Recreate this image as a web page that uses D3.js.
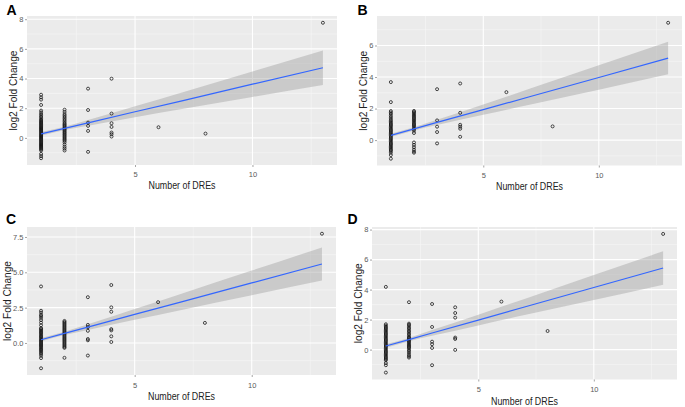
<!DOCTYPE html>
<html>
<head>
<meta charset="utf-8">
<script src="https://cdn.jsdelivr.net/npm/d3@7"></script>
<style>
html,body{margin:0;padding:0;background:#fff;}
svg{display:block;font-family:"Liberation Sans",Arial,sans-serif;}
</style>
</head>
<body>
<svg id="chart" width="685" height="407"></svg>
<script>
// ---------- DATA ----------
const dreLevels = [1, 2, 3, 4, 6, 8, 13];

// log2 fold change per DRE count level (same order as dreLevels)
const fcA = [
  [2.91, 2.73, 2.58, 2.22, 1.84, 1.72, 1.6, 1.5, 1.4, 1.3, 1.22, 1.15, 1.08, 1.02, 0.96, 0.9, 0.84, 0.78, 0.72, 0.66, 0.6, 0.54, 0.48, 0.42, 0.36, 0.3, 0.24, 0.18, 0.12, 0.06, 0.0, -0.06, -0.12, -0.18, -0.24, -0.3, -0.36, -0.42, -0.48, -0.54, -0.6, -0.66, -0.72, -0.78, -0.85, -1.08, -1.23, -1.37],
  [1.9, 1.75, 1.6, 1.5, 1.4, 1.3, 1.2, 1.1, 1.0, 0.92, 0.85, 0.78, 0.7, 0.62, 0.55, 0.48, 0.4, 0.33, 0.25, 0.18, 0.1, 0.03, -0.05, -0.12, -0.2, -0.3, -0.45, -0.6, -0.72, -0.85],
  [3.32, 1.88, 1.03, 0.81, 0.47, -0.94],
  [3.99, 1.64, 0.99, 0.74, 0.36, 0.25, 0.09],
  [0.72],
  [0.29],
  [7.76]
];
const fcB = [
  [3.68, 2.41, 1.84, 1.75, 1.66, 1.55, 1.45, 1.35, 1.25, 1.18, 1.1, 1.02, 0.95, 0.88, 0.8, 0.72, 0.65, 0.58, 0.5, 0.43, 0.36, 0.28, 0.2, 0.12, 0.05, -0.02, -0.1, -0.18, -0.25, -0.32, -0.4, -0.47, -0.55, -0.62, -0.7, -0.8, -0.95, -1.18],
  [1.85, 1.78, 1.7, 1.62, 1.55, 1.48, 1.4, 1.32, 1.25, 1.18, 1.1, 1.02, 0.95, 0.88, 0.8, 0.7, 0.6, 0.45, -0.15, -0.3, -0.45, -0.6, -0.72, -0.8],
  [3.23, 1.25, 0.85, 0.51, -0.21],
  [3.59, 1.73, 0.97, 0.85, 0.72, 0.21],
  [3.04],
  [0.87],
  [7.44]
];
const fcC = [
  [4.0, 2.28, 2.15, 2.0, 1.9, 1.78, 1.62, 1.44, 1.25, 1.05, 0.98, 0.9, 0.82, 0.75, 0.68, 0.6, 0.52, 0.45, 0.38, 0.3, 0.22, 0.15, 0.08, 0.0, -0.08, -0.15, -0.22, -0.3, -0.38, -0.45, -0.52, -0.6, -0.68, -0.78, -0.9, -1.07, -1.79],
  [1.56, 1.48, 1.4, 1.32, 1.24, 1.16, 1.08, 1.0, 0.92, 0.84, 0.76, 0.68, 0.6, 0.52, 0.44, 0.36, 0.28, 0.2, 0.12, 0.04, -0.04, -0.12, -0.2, -0.28, -0.35, -1.05],
  [3.24, 1.28, 1.12, 0.86, 0.28, 0.19, -0.89],
  [4.1, 2.52, 2.21, 0.98, 0.89, 0.47, 0.07],
  [2.89],
  [1.42],
  [7.73]
];
const fcD = [
  [4.18, 1.69, 1.6, 1.52, 1.44, 1.36, 1.28, 1.2, 1.12, 1.04, 0.96, 0.88, 0.8, 0.72, 0.64, 0.56, 0.48, 0.4, 0.32, 0.24, 0.16, 0.08, 0.0, -0.08, -0.16, -0.24, -0.32, -0.4, -0.48, -0.56, -0.64, -0.71, -0.9, -1.04, -1.53],
  [3.16, 1.73, 1.65, 1.55, 1.45, 1.35, 1.25, 1.15, 1.05, 0.95, 0.85, 0.78, 0.7, 0.62, 0.55, 0.48, 0.4, 0.32, 0.25, 0.18, 0.1, 0.0, -0.1, -0.22, -0.35, -0.45, -0.53],
  [3.04, 1.51, 0.53, 0.36, 0.11, -1.04],
  [2.82, 2.44, 2.13, 0.8, 0.71, -0.02],
  [3.2],
  [1.24],
  [7.71]
];

// fitted linear trend with confidence band
const fitX = [1, 2, 3, 5, 7, 10, 13];
const fitA = [0.27, 0.64, 1.01, 1.76, 2.50, 3.62, 4.73];
const loA  = [0.15, 0.53, 0.82, 1.39, 1.94, 2.76, 3.57];
const hiA  = [0.39, 0.75, 1.20, 2.13, 3.06, 4.48, 5.89];
const fitB = [0.30, 0.71, 1.12, 1.93, 2.75, 3.97, 5.20];
const loB  = [0.19, 0.61, 0.95, 1.60, 2.25, 3.20, 4.17];
const hiB  = [0.41, 0.81, 1.29, 2.26, 3.25, 4.74, 6.23];
const fitC = [0.23, 0.68, 1.12, 2.02, 2.91, 4.25, 5.59];
const loC  = [0.10, 0.56, 0.92, 1.64, 2.34, 3.38, 4.42];
const hiC  = [0.36, 0.80, 1.32, 2.40, 3.48, 5.12, 6.76];
const fitD = [0.24, 0.67, 1.11, 1.97, 2.84, 4.14, 5.44];
const loD  = [0.12, 0.56, 0.92, 1.61, 2.30, 3.31, 4.33];
const hiD  = [0.36, 0.78, 1.30, 2.33, 3.38, 4.97, 6.55];

const xTicks = [5, 10];
const yTicksA = [0, 2, 4, 6, 8];
const yTicksB = [0, 2, 4, 6];
const yTicksC = [0, 2.5, 5, 7.5];
const yTicksD = [0, 2, 4, 6, 8];

const xTitle = "Number of DREs";
const yTitle = "log2 Fold Change";
const panelLabels = ["A", "B", "C", "D"];

// ---------- DRAW ----------
const svg = d3.select("#chart");

const panels = [
  {lab: panelLabels[0], fc: fcA, fit: fitA, lo: loA, hi: hiA, yTicks: yTicksA, fmt: d3.format("d"),
   box: [27, 337, 16, 165], letter: [6.5, 14.5], yTitleX: 17, xTitleY: 189, xTickY: 177},
  {lab: panelLabels[1], fc: fcB, fit: fitB, lo: loB, hi: hiB, yTicks: yTicksB, fmt: d3.format("d"),
   box: [377, 682, 16, 165.5], letter: [357.5, 14.5], yTitleX: 367, xTitleY: 190, xTickY: 178},
  {lab: panelLabels[2], fc: fcC, fit: fitC, lo: loC, hi: hiC, yTicks: yTicksC, fmt: d3.format(".1f"),
   box: [27, 336, 227, 375], letter: [6, 223.5], yTitleX: 11, xTitleY: 400, xTickY: 387.5},
  {lab: panelLabels[3], fc: fcD, fit: fitD, lo: loD, hi: hiD, yTicks: yTicksD, fmt: d3.format("d"),
   box: [372, 677, 227, 379.5], letter: [347.5, 224], yTitleX: 362, xTitleY: 405, xTickY: 392}
];

function mids(arr) {
  const out = [];
  for (let i = 0; i < arr.length - 1; i++) out.push((arr[i] + arr[i + 1]) / 2);
  return out;
}

panels.forEach(p => {
  const [x0, x1, y0, y1] = p.box;
  const pts = [];
  p.fc.forEach((vals, i) => vals.forEach(v => pts.push({x: dreLevels[i], y: v})));

  const xExt = d3.extent(pts, d => d.x);
  const yExt = d3.extent(pts, d => d.y);
  const xPad = (xExt[1] - xExt[0]) * 0.05, yPad = (yExt[1] - yExt[0]) * 0.05;
  const x = d3.scaleLinear().domain([xExt[0] - xPad, xExt[1] + xPad]).range([x0, x1]);
  const y = d3.scaleLinear().domain([yExt[0] - yPad, yExt[1] + yPad]).range([y1, y0]);

  const g = svg.append("g");
  g.append("rect").attr("x", x0).attr("y", y0).attr("width", x1 - x0).attr("height", y1 - y0).attr("fill", "#EBEBEB");

  // grid
  const xMajor = [0, 5, 10, 15];
  const xMinor = mids(xMajor).filter(v => v > x.domain()[0] && v < x.domain()[1]);
  const step = p.yTicks[1] - p.yTicks[0];
  const yMajorFull = d3.range(-2, 5).map(k => k * step);
  const yMinor = mids(yMajorFull).filter(v => v > y.domain()[0] && v < y.domain()[1]);
  const yMajor = yMajorFull.filter(v => v > y.domain()[0] && v < y.domain()[1]);

  g.selectAll(null).data(yMinor).join("line")
    .attr("x1", x0).attr("x2", x1).attr("y1", d => y(d)).attr("y2", d => y(d))
    .attr("stroke", "#F6F6F6").attr("stroke-width", 0.6);
  g.selectAll(null).data(xMinor).join("line")
    .attr("y1", y0).attr("y2", y1).attr("x1", d => x(d)).attr("x2", d => x(d))
    .attr("stroke", "#F6F6F6").attr("stroke-width", 0.6);
  g.selectAll(null).data(yMajor).join("line")
    .attr("x1", x0).attr("x2", x1).attr("y1", d => y(d)).attr("y2", d => y(d))
    .attr("stroke", "#FFFFFF").attr("stroke-width", 1.1);
  g.selectAll(null).data(xTicks).join("line")
    .attr("y1", y0).attr("y2", y1).attr("x1", d => x(d)).attr("x2", d => x(d))
    .attr("stroke", "#FFFFFF").attr("stroke-width", 1.1);

  // ribbon
  const band = fitX.map((fx, i) => ({x: fx, lo: p.lo[i], hi: p.hi[i], f: p.fit[i]}));
  g.append("path").datum(band)
    .attr("d", d3.area().x(d => x(d.x)).y0(d => y(d.lo)).y1(d => y(d.hi)).curve(d3.curveMonotoneX))
    .attr("fill", "#999999").attr("fill-opacity", 0.4);

  // points
  g.selectAll(null).data(pts).join("circle")
    .attr("cx", d => x(d.x)).attr("cy", d => y(d.y)).attr("r", 1.5)
    .attr("fill", "none").attr("stroke", "#111").attr("stroke-width", 0.75);

  // fit line
  g.append("path").datum(band)
    .attr("d", d3.line().x(d => x(d.x)).y(d => y(d.f)))
    .attr("fill", "none").attr("stroke", "#3366FF").attr("stroke-width", 1.2);

  // axes
  const yAxis = d3.axisLeft(y).tickValues(p.yTicks).tickFormat(p.fmt).tickSize(2).tickPadding(1.5);
  const ya = g.append("g").attr("transform", `translate(${x0},0)`).call(yAxis);
  ya.select(".domain").remove();
  ya.selectAll("line").attr("stroke", "#666").attr("stroke-width", 0.6);
  ya.selectAll("text").attr("fill", "#5A5A5A").attr("font-size", 7.5).attr("font-family", "Liberation Sans, Arial, sans-serif");

  const xAxis = d3.axisBottom(x).tickValues(xTicks).tickFormat(d3.format("d")).tickSize(2).tickPadding(1);
  const xa = g.append("g").attr("transform", `translate(0,${y1})`).call(xAxis);
  xa.select(".domain").remove();
  xa.selectAll("line").attr("stroke", "#666").attr("stroke-width", 0.6);
  xa.selectAll("text").attr("fill", "#5A5A5A").attr("font-size", 7.5).attr("font-family", "Liberation Sans, Arial, sans-serif")
    .attr("dy", null).attr("y", p.xTickY - y1);

  // titles
  g.append("text").attr("x", (x0 + x1) / 2).attr("y", p.xTitleY)
    .attr("text-anchor", "middle").attr("font-size", 10).attr("fill", "#222")
    .attr("textLength", 67).attr("lengthAdjust", "spacingAndGlyphs")
    .text(xTitle);
  g.append("text")
    .attr("transform", `translate(${p.yTitleX},${(y0 + y1) / 2}) rotate(-90)`)
    .attr("text-anchor", "middle").attr("font-size", 10.5).attr("fill", "#222")
    .attr("textLength", 80).attr("lengthAdjust", "spacingAndGlyphs")
    .text(yTitle);

  // panel letter
  g.append("text").attr("x", p.letter[0]).attr("y", p.letter[1])
    .attr("font-size", 14).attr("font-weight", "bold").attr("fill", "#000")
    .text(p.lab);
});
</script>
</body>
</html>
